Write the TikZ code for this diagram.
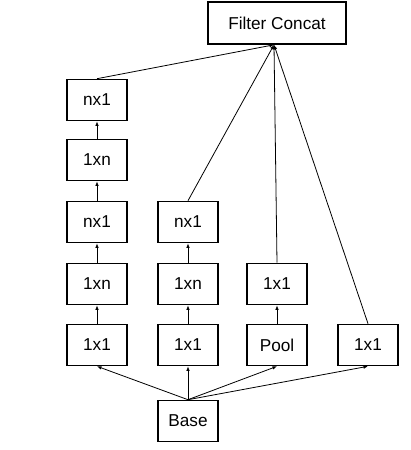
\documentclass[tikz,border=0pt]{standalone}
\usepackage{fontspec}
\setmainfont{Liberation Sans}
\usetikzlibrary{arrows.meta}
\begin{document}
\begin{tikzpicture}[x=1pt,y=-1pt,
  box/.style={draw,line width=1.6pt,minimum width=60pt,minimum height=41pt,inner sep=0pt,font=\fontsize{17.2}{19}\selectfont},
  conn/.style={line width=0.8pt,-{Latex[length=4.5pt,width=3.5pt]}}]
\useasboundingbox (0,0) rectangle (410,450);
\node[box,minimum width=138pt,minimum height=42pt] (fc) at (277,23) {Filter Concat};
% column 1
\node[box] (a1) at (97,345) {1x1};
\node[box] (a2) at (97,284) {1xn};
\node[box] (a3) at (97,222) {nx1};
\node[box] (a4) at (97,160) {1xn};
\node[box] (a5) at (97,100) {nx1};
% column 2
\node[box] (b1) at (188,345) {1x1};
\node[box] (b2) at (188,284) {1xn};
\node[box] (b3) at (188,222) {nx1};
% column 3
\node[box] (c1) at (277,345) {Pool};
\node[box] (c2) at (277,284) {1x1};
% column 4
\node[box] (d1) at (368,345) {1x1};
% base
\node[box] (base) at (188,421) {Base};
\draw[conn] (base.north) -- (a1.south);
\draw[conn] (base.north) -- (b1.south);
\draw[conn] (base.north) -- (c1.south);
\draw[conn] (base.north) -- (d1.south);
\draw[conn] (a1) -- (a2);
\draw[conn] (a2) -- (a3);
\draw[conn] (a3) -- (a4);
\draw[conn] (a4) -- (a5);
\draw[conn] (b1) -- (b2);
\draw[conn] (b2) -- (b3);
\draw[conn] (c1) -- (c2);
\coordinate (t) at ([xshift=-3pt]fc.south);
\draw[conn] (a5.north) -- (t);
\draw[conn] (b3.north) -- (t);
\draw[conn] (c2.north) -- (t);
\draw[conn] (d1.north) -- (t);
\end{tikzpicture}
\end{document}
